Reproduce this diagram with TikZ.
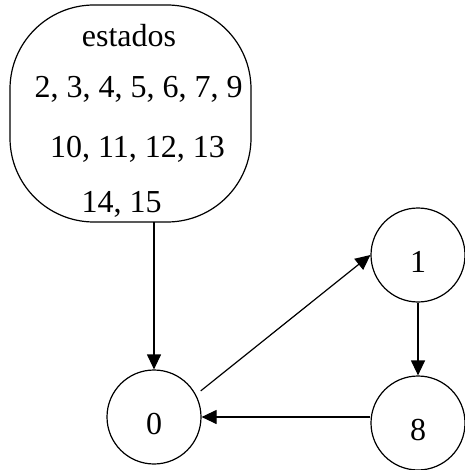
\documentclass[tikz,border=0pt]{standalone}
\usepackage{fontspec}
\setmainfont{Liberation Serif}
\usetikzlibrary{arrows.meta}
\begin{document}
\begin{tikzpicture}[x=1pt,y=-1pt,
  every node/.style={font=\fontsize{32}{38}\selectfont},
  st/.style={draw,circle,line width=1.2pt,minimum size=94pt,inner sep=0pt,text height=34pt,text depth=0pt},
  grp/.style={minimum width=241pt,minimum height=217pt,inner sep=0pt},
  outline/.style={line width=1.2pt},
  lbl/.style={anchor=base,inner sep=0pt},
  conn/.style={line width=1.2pt,-{Triangle[length=15pt,width=14pt]}}]
\useasboundingbox (0,0) rectangle (464,470);
\node[grp] (box) at (130.5,113.5) {};
% rounded outline of the group box (L=10, R=251, T=5, B=222, r=84)
\draw[outline] (94,5) -- (167,5)
  .. controls (213.4,5) and (251,42.6) .. (251,89)
  -- (251,138)
  .. controls (251,184.4) and (213.4,222) .. (167,222)
  -- (94,222)
  .. controls (47.6,222) and (10,184.4) .. (10,138)
  -- (10,89)
  .. controls (10,42.6) and (47.6,5) .. (94,5) -- cycle;
\node[lbl] (t1) at (129,47) {estados};
\node[lbl] (t2) at (138.5,98) {2, 3, 4, 5, 6, 7, 9};
\node[lbl] (t3) at (137.5,158) {10, 11, 12, 13};
\node[lbl] (t4) at (121.5,212) {14, 15};
\node[st] (n0) at (154,417) {0};
\node[st] (n1) at (418,255) {1};
\node[st] (n8) at (418,423) {8};
\draw[conn] (n0 |- box.south) -- (n0.north);
\draw[conn,shorten <=6pt] (n0.28) -- (n1.west);
\draw[conn] (n1.south) -- (n8.north);
\draw[conn] (n8.west |- n0.east) -- (n0.east);
\end{tikzpicture}
\end{document}
